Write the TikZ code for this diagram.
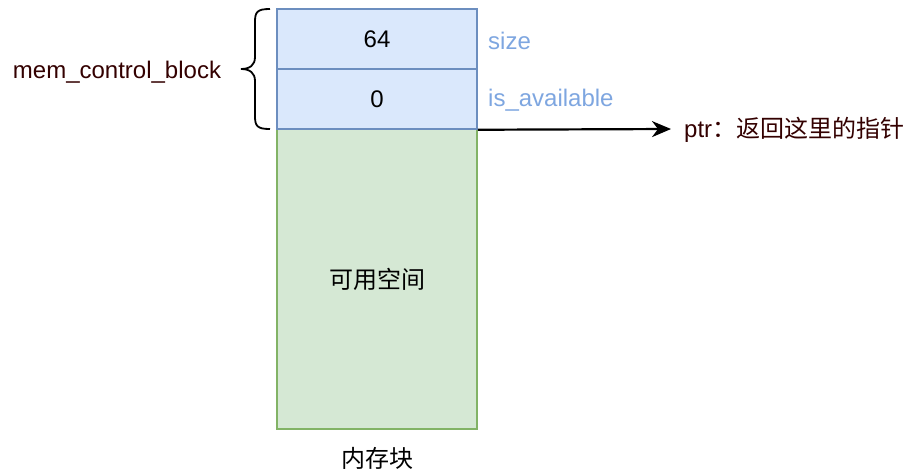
\documentclass[tikz,border=0pt]{standalone}
\usepackage{fontspec}
\setmainfont{Liberation Sans}
\newfontfamily\cjk{Noto Sans CJK SC}
\usetikzlibrary{arrows.meta}
\definecolor{bluefill}{HTML}{DAE8FC}
\definecolor{bluedraw}{HTML}{6C8EBF}
\definecolor{greenfill}{HTML}{D5E8D4}
\definecolor{greendraw}{HTML}{82B366}
\definecolor{labelblue}{HTML}{7EA6E0}
\definecolor{darkred}{HTML}{330000}
\begin{document}
\begin{tikzpicture}[x=1pt,y=-1pt,
  txt/.style={font=\fontsize{24}{28}\selectfont, inner sep=0pt},
  cjktxt/.style={font=\fontsize{24}{28}\selectfont\cjk, inner sep=0pt},
  bluebox/.style={draw=bluedraw, fill=bluefill, line width=1.5pt, minimum width=200pt, minimum height=60pt, inner sep=0pt, font=\fontsize{24}{28}\selectfont},
  greenbox/.style={draw=greendraw, fill=greenfill, line width=1.5pt, minimum width=200pt, minimum height=300pt, inner sep=0pt, font=\fontsize{24}{28}\selectfont\cjk},
  fieldlabel/.style={txt, text=labelblue, anchor=west},
]
\useasboundingbox (0,0) rectangle (912,474);
\node[greenbox] (green) at (377,279) {可用空间};
\node[bluebox] (size) at (377,39) {64};
\node[bluebox] (avail) at (377,99) {0};
\node[fieldlabel] (sizelbl) at (488,41) {size};
\node[fieldlabel] (availlbl) at (488,100) {is\_available};
\node[txt, text=darkred] (mcb) at (117,72) {mem\_control\_block};
\node[cjktxt, text=black] (mem) at (377,458) {内存块};
\node[txt, text=darkred, anchor=west] (ptr) at (684,130) {ptr{\cjk ：返回这里的指针}};
\coordinate (ptrstart) at (avail.south east);
\coordinate (ptrend) at (671,129);
\draw[line width=2.2pt, -{Stealth[length=19pt,width=16pt,inset=6pt]}] (ptrstart) -- (ptrend);
\draw[line width=1.8pt] (270,9) .. controls (257,9) and (255,12) .. (255,22) -- (255,57) .. controls (255,65) and (250,69) .. (241,69) .. controls (250,69) and (255,73) .. (255,81) -- (255,116) .. controls (255,126) and (257,129) .. (270,129);
\end{tikzpicture}
\end{document}
